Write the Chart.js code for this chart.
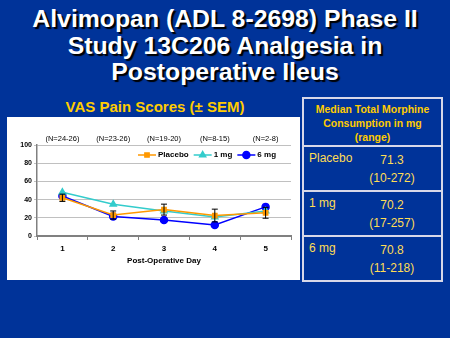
<!DOCTYPE html>
<html lang="en">
<head>
<meta charset="UTF-8">
<title>Alvimopan Phase II - VAS Pain Scores</title>
<script src="https://cdn.jsdelivr.net/npm/chart.js"></script>
<style>
    body {
        margin: 0;
        width: 450px;
        height: 338px;
        background-color: #003399;
        font-family: "Liberation Sans", Arial, sans-serif;
        position: relative;
        overflow: hidden;
    }

    .slide-title {
        position: absolute;
        left: 0;
        top: 6px;
        width: 450px;
        text-align: center;
        color: #fff;
        font-weight: bold;
        font-size: 24.8px;
        line-height: 26.5px;
        text-shadow: 2px 2px 1px #000;
    }

    .chart-title {
        position: absolute;
        left: 8px;
        top: 98px;
        width: 294px;
        text-align: center;
        color: #ffcc00;
        font-weight: bold;
        font-size: 15px;
    }

    .chart-box {
        position: absolute;
        left: 7px;
        top: 117px;
        width: 293px;
        height: 163px;
        background: #fff;
    }

    .morphine {
        position: absolute;
        left: 302px;
        top: 97px;
        width: 137px;
        height: 181px;
        border: 2px solid #d8d8e8;
        color: #ffcc00;
    }

    .morphine .head {
        height: 48px;
        border-bottom: 2px solid #d8d8e8;
        text-align: center;
        font-weight: bold;
        font-size: 10.5px;
        line-height: 14px;
        padding-top: 3px;
        box-sizing: border-box;
    }

    .morphine .row {
        position: relative;
        height: 43px;
        border-bottom: 2px solid #d8d8e8;
        font-size: 12px;
        color: #ffdd55;
    }

    .morphine .row:last-child {
        border-bottom: none;
    }

    .row .name {
        position: absolute;
        left: 5px;
        top: 4px;
    }

    .row .val {
        position: absolute;
        left: 62px;
        width: 52px;
        top: 4px;
        text-align: center;
        line-height: 18px;
    }
</style>
</head>
<body>
    <div class="slide-title">Alvimopan (ADL 8-2698) Phase II<br>Study 13C206 Analgesia in<br>Postoperative Ileus</div>

    <div class="chart-title">VAS Pain Scores (± SEM)</div>

    <div class="chart-box">
        <canvas id="vas-chart" width="293" height="163"></canvas>
    </div>

    <div class="morphine">
        <div class="head">Median Total Morphine<br>Consumption in mg<br>(range)</div>
        <div class="row"><span class="name">Placebo</span><span class="val">71.3<br>(10-272)</span></div>
        <div class="row"><span class="name">1 mg</span><span class="val">70.2<br>(17-257)</span></div>
        <div class="row"><span class="name">6 mg</span><span class="val">70.8<br>(11-218)</span></div>
    </div>

<script>
    // data
    const days = ['1', '2', '3', '4', '5'];
    const nLabels = ['(N=24-26)', '(N=23-26)', '(N=19-20)', '(N=8-15)', '(N=2-8)'];
    const placebo = [42, 23, 29, 22.5, 25.5];
    const placeboSem = [4, 4.5, 6, 7, 6];
    const oneMg = [48, 35, 27.5, 21, 27.5];
    const sixMg = [44, 21.5, 17.5, 12, 32];
    const yTicks = [0, 20, 40, 60, 80, 100];

    // black error bars (placebo)
    const errorBars = {
        id: 'errorBars',
        afterDatasetsDraw(chart) {
            const ctx = chart.ctx;
            const x = chart.scales.x;
            const y = chart.scales.y;
            ctx.save();
            ctx.strokeStyle = '#000';
            ctx.lineWidth = 1;
            chart.data.datasets.forEach(ds => {
                if (!ds.sem) return;
                ds.data.forEach((v, i) => {
                    const px = x.getPixelForValue(i);
                    const top = y.getPixelForValue(v + ds.sem[i]);
                    const bot = y.getPixelForValue(v - ds.sem[i]);
                    ctx.beginPath();
                    ctx.moveTo(px, top); ctx.lineTo(px, bot);
                    ctx.moveTo(px - 3, top); ctx.lineTo(px + 3, top);
                    ctx.moveTo(px - 3, bot); ctx.lineTo(px + 3, bot);
                    ctx.stroke();
                });
            });
            ctx.restore();
        }
    };

    // legend inside the plot, line + marker like the original
    const innerLegend = {
        id: 'innerLegend',
        afterDraw(chart) {
            const ctx = chart.ctx;
            const area = chart.chartArea;
            let cx = area.left + 101;
            const cy = area.top + 10;
            ctx.save();
            ctx.font = 'bold 8px "Liberation Sans", Arial, sans-serif';
            ctx.textBaseline = 'middle';
            chart.data.datasets.forEach(ds => {
                ctx.strokeStyle = ds.borderColor;
                ctx.lineWidth = 1.5;
                ctx.beginPath();
                ctx.moveTo(cx, cy); ctx.lineTo(cx + 18, cy);
                ctx.stroke();
                ctx.fillStyle = ds.pointBackgroundColor;
                ctx.strokeStyle = ds.borderColor;
                Chart.helpers.drawPoint(ctx, {
                    pointStyle: ds.pointStyle, radius: ds.pointRadius, rotation: 0, borderWidth: 1
                }, cx + 9, cy);
                ctx.fillStyle = '#000';
                ctx.fillText(ds.label, cx + 20, cy);
                cx += 20 + ctx.measureText(ds.label).width + 5;
            });
            ctx.restore();
        }
    };

    const ctx = document.getElementById('vas-chart').getContext('2d');
    new Chart(ctx, {
        type: 'line',
        data: {
            labels: days,
            datasets: [{
                label: 'Placebo',
                data: placebo,
                sem: placeboSem,
                borderColor: '#ff9900',
                pointBackgroundColor: '#ff9900',
                pointStyle: 'rect',
                pointRadius: 3,
                borderWidth: 1.5
            }, {
                label: '1 mg',
                data: oneMg,
                borderColor: '#33cccc',
                pointBackgroundColor: '#33cccc',
                pointStyle: 'triangle',
                pointRadius: 3.5,
                borderWidth: 1.5
            }, {
                label: '6 mg',
                data: sixMg,
                borderColor: '#0000ff',
                pointBackgroundColor: '#0000ff',
                pointStyle: 'circle',
                pointRadius: 3.5,
                borderWidth: 1.5
            }]
        },
        options: {
            responsive: false,
            animation: false,
            layout: { padding: { left: 0, right: 9, top: 0, bottom: 0 } },
            plugins: {
                legend: { display: false },
                tooltip: { enabled: false }
            },
            scales: {
                x: {
                    offset: true,
                    grid: { offset: true, drawOnChartArea: false, tickLength: 4, color: '#808080' },
                    border: { color: '#808080', width: 2 },
                    ticks: { color: '#000', padding: 4, font: { size: 8, weight: 'bold' } },
                    title: {
                        display: true,
                        text: 'Post-Operative Day',
                        color: '#000',
                        font: { size: 8, weight: 'bold' },
                        padding: { top: 0, bottom: 14 }
                    },
                    afterFit: s => { s.height = 44; }
                },
                x2: {
                    type: 'category',
                    labels: nLabels,
                    position: 'top',
                    offset: true,
                    grid: { display: false, drawTicks: false },
                    border: { display: false },
                    ticks: { color: '#000', padding: 2, font: { size: 7.5 } },
                    afterFit: s => { s.height = 28; }
                },
                y: {
                    min: 0,
                    max: 100,
                    afterBuildTicks: s => { s.ticks = yTicks.map(v => ({ value: v })); },
                    grid: { color: '#c0c0c0', tickLength: 3, lineWidth: 1 },
                    border: { color: '#808080', width: 1.5 },
                    ticks: { color: '#000', padding: 2, font: { size: 7, weight: 'bold' } },
                    afterFit: s => { s.width = 30; }
                }
            }
        },
        plugins: [errorBars, innerLegend]
    });
</script>
</body>
</html>
